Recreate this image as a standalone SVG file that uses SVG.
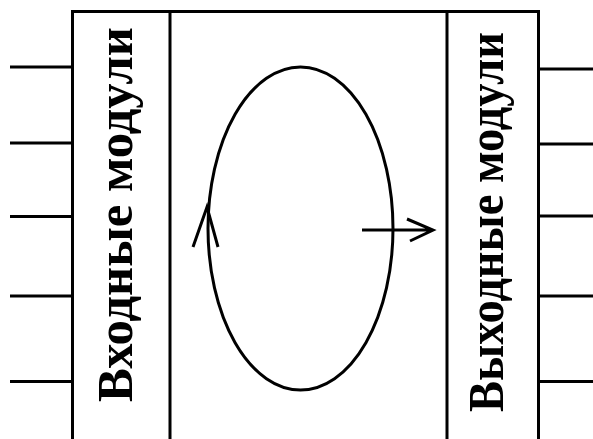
<svg xmlns="http://www.w3.org/2000/svg" width="593" height="439" viewBox="0 0 593 439">
<style>
.ln{stroke:#000;stroke-width:3;fill:none}
.lbl{font-family:"Liberation Serif","Times New Roman",serif;font-weight:bold;font-size:50px;fill:#000;text-anchor:middle}
</style>
<rect width="593" height="439" fill="#fff"/>
<g id="frame">
<path class="ln" d="M72.5,439 V11.5 H538.5 V439"/>
</g>
<g id="input-modules">
<path class="ln" d="M170,11.5 V439"/>
<text class="lbl" transform="translate(132,214.5) rotate(-90)" textLength="375" lengthAdjust="spacingAndGlyphs">Входные модули</text>
</g>
<g id="output-modules">
<path class="ln" d="M447,11.5 V439"/>
<text class="lbl" transform="translate(503,222) rotate(-90)" textLength="380" lengthAdjust="spacingAndGlyphs">Выходные модули</text>
</g>
<g id="loop">
<ellipse class="ln" cx="300.5" cy="228.5" rx="92.5" ry="161.5"/>
</g>
<g id="connectors">
<path class="ln" d="M10,67 H72 M10,143 H72 M10,216.5 H72 M10,296 H72 M10,381.5 H72"/>
<path class="ln" d="M538,69 H593 M538,144 H593 M538,216 H593 M538,296 H593 M538,381.5 H593"/>
<path class="ln" d="M193,247 L207,207 L218,247"/>
<path class="ln" d="M362,230 H433 M407,219 L433,230 L410,241"/>
</g>
</svg>
